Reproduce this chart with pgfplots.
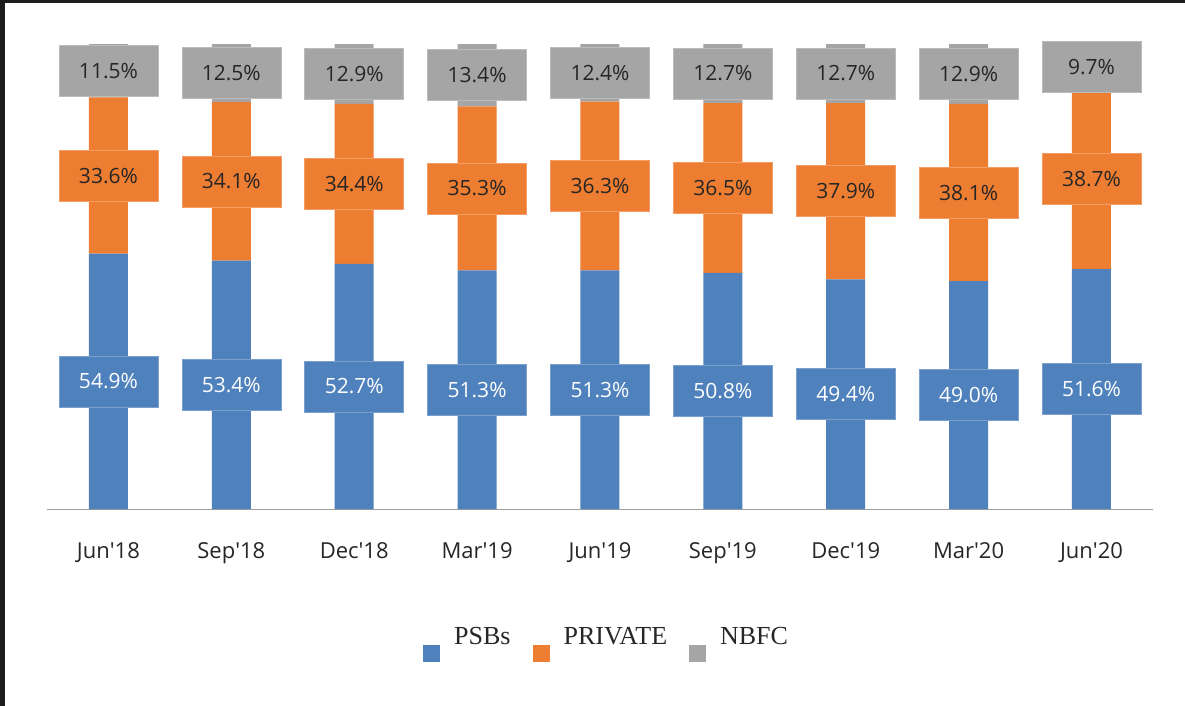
\documentclass[border=0pt]{standalone}
\usepackage{pgfplots}
\pgfplotsset{compat=1.18}
\usepackage{pgfplotstable}
\usepackage{fontspec}
\setmainfont{Open Sans}
\newfontfamily\legendfont{Liberation Serif}
\definecolor{cpsb}{RGB}{79,129,189}
\definecolor{cpriv}{RGB}{237,125,49}
\definecolor{cnbfc}{RGB}{165,165,165}
\definecolor{ctext}{RGB}{38,38,38}
\definecolor{cframe}{RGB}{28,28,28}

\pgfplotstableread{
x psb priv nbfc
0 54.9 33.6 11.5
1 53.4 34.1 12.5
2 52.7 34.4 12.9
3 51.3 35.3 13.4
4 51.3 36.3 12.4
5 50.8 36.5 12.7
6 49.4 37.9 12.7
7 49.0 38.1 12.9
8 51.6 38.7 9.7
}\datatable

\pgfplotsset{
  base/.style={scale only axis, width=1106pt, height=465pt,
    xmin=-0.5, xmax=8.5, ymin=0, ymax=100,
    at={(47pt,-509pt)}, anchor=south west},
}
\tikzset{
  lbl/.style={font=\fontsize{21}{25}\selectfont, minimum width=99pt,
    minimum height=51pt, inner sep=0pt, line width=0.6pt},
}

\begin{document}
\begin{tikzpicture}
\path[use as bounding box] (0,0) rectangle (1185pt,-706pt);
\fill[cframe] (0,0) rectangle (5pt,-706pt);
\fill[cframe] (0,0) rectangle (1185pt,-3.5pt);
\begin{axis}[base, ybar stacked, bar width=39pt,
  axis x line=bottom, axis y line=none,
  x axis line style={-, draw=black!38, line width=1pt},
  xtick={0,...,8},
  xticklabels={Jun\textquotesingle18,Sep\textquotesingle18,Dec\textquotesingle18,Mar\textquotesingle19,Jun\textquotesingle19,Sep\textquotesingle19,Dec\textquotesingle19,Mar\textquotesingle20,Jun\textquotesingle20},
  major tick length=0pt,
  xticklabel style={font=\fontsize{22}{26}\selectfont, text=ctext, anchor=base, yshift=-49pt},
  legend columns=3,
  legend image code/.code={\fill[#1] (0pt,-18pt) rectangle (17pt,-1pt);},
  legend style={draw=none, fill=none, inner sep=0pt,
    font=\legendfont\fontsize{26}{30}\selectfont, text=ctext,
    at={(0.34,-0.2538)}, anchor=north west,
    nodes={inner sep=0pt, anchor=base west},
    /tikz/every odd column/.style={column sep=14pt},
    /tikz/every even column/.style={column sep=22pt}},
]
\addplot[fill=cpsb, draw=none] table[x=x, y=psb]{\datatable};
\addplot[fill=cpriv, draw=none] table[x=x, y=priv]{\datatable};
\addplot[fill=cnbfc, draw=none] table[x=x, y=nbfc]{\datatable};
\legend{PSBs, PRIVATE, NBFC}
\end{axis}
\begin{axis}[base, hide axis, clip=false, nodes near coords align={center}]
\addplot[draw=none, point meta=explicit symbolic,
  nodes near coords={\pgfplotspointmeta\%},
  every node near coord/.append style={lbl, fill=cpsb, draw=cpsb!75!white, text=white}]
  table[x=x, y expr=\thisrow{psb}/2, meta=psb]{\datatable};
\addplot[draw=none, point meta=explicit symbolic,
  nodes near coords={\pgfplotspointmeta\%},
  every node near coord/.append style={lbl, fill=cpriv, draw=cpriv!75!white, text=ctext}]
  table[x=x, y expr=\thisrow{psb}+\thisrow{priv}/2, meta=priv]{\datatable};
\addplot[draw=none, point meta=explicit symbolic,
  nodes near coords={\pgfplotspointmeta\%},
  every node near coord/.append style={lbl, fill=cnbfc, draw=cnbfc!75!white, text=ctext}]
  table[x=x, y expr=\thisrow{psb}+\thisrow{priv}+\thisrow{nbfc}/2, meta=nbfc]{\datatable};
\end{axis}
\end{tikzpicture}
\end{document}
